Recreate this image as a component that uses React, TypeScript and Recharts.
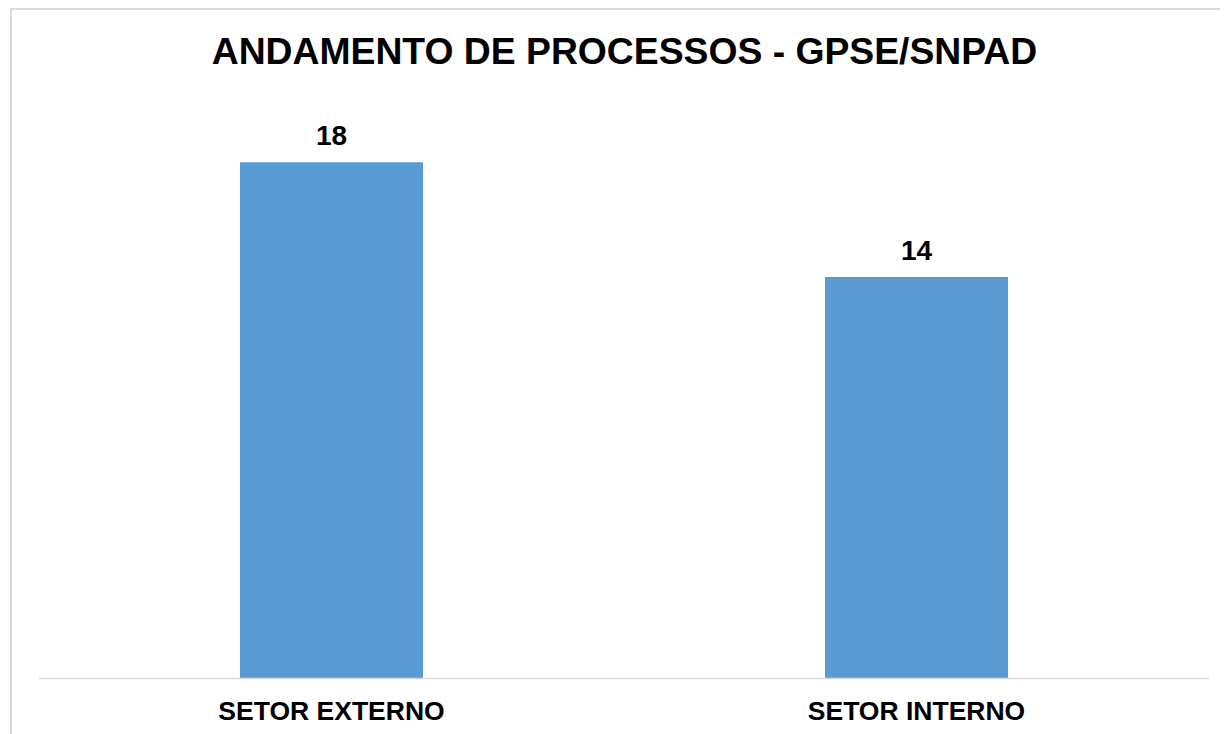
import React from 'react';
import { BarChart, Bar, XAxis, YAxis, LabelList } from 'recharts';

const categories = ['SETOR EXTERNO', 'SETOR INTERNO'];
const values = [18, 14];
const titleText = 'ANDAMENTO DE PROCESSOS - GPSE/SNPAD';

const data = categories.map((name, i) => ({ name, value: values[i] }));

const FONT = '"Liberation Sans", Arial, sans-serif';

export default function App() {
  return (
    <div style={{ position: 'relative', marginLeft: 2, width: 1218, height: 726, overflow: 'hidden' }}>
      <div
        style={{
          position: 'absolute',
          left: 0,
          top: 0,
          width: 1240,
          height: 760,
          border: '2px solid #d9d9d9',
          boxSizing: 'border-box',
        }}
      />
      <div
        style={{
          position: 'absolute',
          left: 0,
          top: 25,
          width: 1229,
          textAlign: 'center',
          fontFamily: FONT,
          fontWeight: 'bold',
          fontSize: 37.3,
          lineHeight: '37px',
          color: '#000',
          whiteSpace: 'nowrap',
        }}
      >
        {titleText}
      </div>
      <div style={{ position: 'absolute', left: 2, top: 2 }}>
        <BarChart
          width={1200}
          height={720}
          data={data}
          margin={{ top: 95, right: 3, left: 27, bottom: 1.5 }}
        >
          <XAxis
            dataKey="name"
            height={50}
            tickLine={false}
            tickMargin={16.5}
            axisLine={{ stroke: '#d9d9d9', strokeWidth: 1.5 }}
            tick={{ fill: '#000', fontSize: 26.5, fontWeight: 'bold', fontFamily: FONT }}
            interval={0}
          />
          <YAxis hide domain={[0, 20]} />
          <Bar dataKey="value" fill="#5b9bd5" barSize={183} isAnimationActive={false}>
            <LabelList
              dataKey="value"
              position="top"
              offset={17.5}
              style={{ fill: '#000', fontSize: 28, fontWeight: 'bold', fontFamily: FONT }}
            />
          </Bar>
        </BarChart>
      </div>
    </div>
  );
}
